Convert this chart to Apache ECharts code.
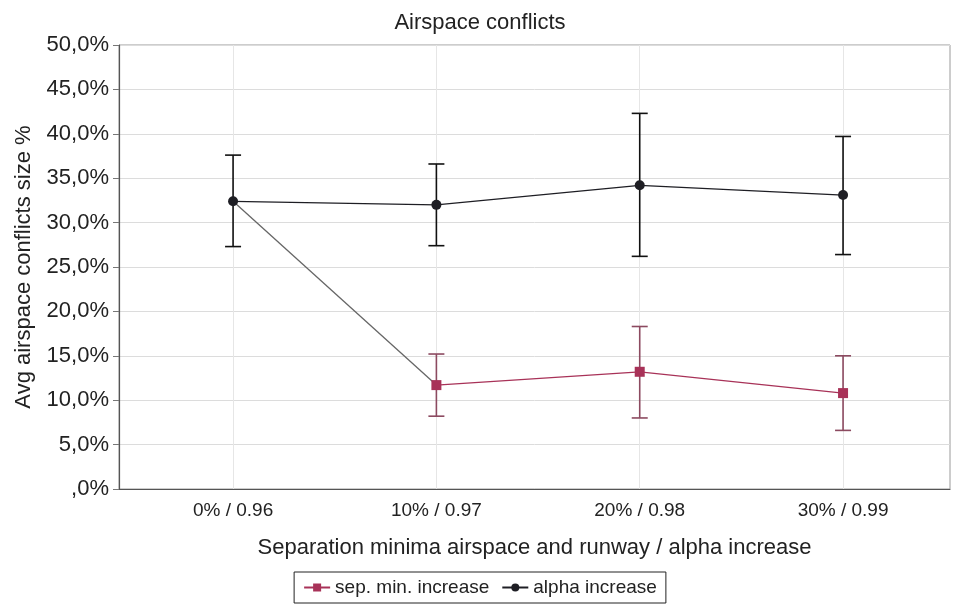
<!DOCTYPE html>
<html><head><meta charset="utf-8">
<script src="https://cdn.jsdelivr.net/npm/echarts@6/dist/echarts.min.js"></script>
<style>html,body{margin:0;padding:0;background:#fff}#c{width:960px;height:605px}</style>
</head><body><div id="c"></div>
<script>
const categories = ['0% / 0.96', '10% / 0.97', '20% / 0.98', '30% / 0.99'];
const sepMean = [32.4, 11.7, 13.2, 10.8];
const sepLow  = [null, 8.2, 8.0, 6.6];
const sepHigh = [null, 15.2, 18.3, 15.0];
const alphaMean = [32.4, 32.0, 34.2, 33.1];
const alphaLow  = [27.3, 27.4, 26.2, 26.4];
const alphaHigh = [37.6, 36.6, 42.3, 39.7];

const FONT = 'Liberation Sans';
const sepColor = '#a83258';
const sepBarColor = '#8c4a60';
const alphaColor = '#1e1e24';

function errData(low, high) {
  const out = [];
  for (let i = 0; i < low.length; i++) if (low[i] != null) out.push([i, low[i], high[i]]);
  return out;
}
function errRender(color) {
  return function (params, api) {
    const lo = api.coord([api.value(0), api.value(1)]);
    const hi = api.coord([api.value(0), api.value(2)]);
    const w = 8;
    const st = { stroke: color, lineWidth: 1.6 };
    return { type: 'group', children: [
      { type: 'line', shape: { x1: lo[0], y1: lo[1], x2: hi[0], y2: hi[1] }, style: st },
      { type: 'line', shape: { x1: lo[0] - w, y1: lo[1], x2: lo[0] + w, y2: lo[1] }, style: st },
      { type: 'line', shape: { x1: hi[0] - w, y1: hi[1], x2: hi[0] + w, y2: hi[1] }, style: st }
    ]};
  };
}
const pts = arr => arr.map((v, i) => [i, v]);
const connector = pts(sepMean).filter(p => p[0] <= 1);
const sepLine = pts(sepMean).filter(p => p[0] >= 1);

const chart = echarts.init(document.getElementById('c'));
chart.setOption({
  animation: false,
  textStyle: { fontFamily: FONT },
  title: { text: 'Airspace conflicts', left: 'center', top: 7,
    textStyle: { fontFamily: FONT, fontSize: 22, fontWeight: 'normal', color: '#222' } },
  grid: { left: 119, right: 10, top: 45, bottom: 116, show: true, borderColor: '#9a9a9a', borderWidth: 1 },
  legend: {
    data: ['sep. min. increase', 'alpha increase'],
    bottom: 2, left: 'center',
    borderColor: '#222', borderWidth: 1, padding: [6, 9, 6, 9], borderRadius: 0,
    itemWidth: 26, itemHeight: 10, itemGap: 12,
    textStyle: { fontFamily: FONT, fontSize: 19, color: '#222' }
  },
  xAxis: {
    type: 'value', min: -0.561, max: 3.526,
    name: 'Separation minima airspace and runway / alpha increase',
    nameLocation: 'middle', nameGap: 48,
    nameTextStyle: { fontFamily: FONT, fontSize: 22, color: '#222' },
    axisLine: { show: true, onZero: false, lineStyle: { color: '#555', width: 1.2 } },
    axisTick: { show: false },
    axisLabel: { fontFamily: FONT, fontSize: 19, color: '#222', margin: 12,
      showMinLabel: false, showMaxLabel: false,
      formatter: v => (Number.isInteger(v) && categories[v] !== undefined) ? categories[v] : '' },
    splitLine: { show: false }
  },
  yAxis: {
    type: 'value', min: 0, max: 50, interval: 5,
    name: 'Avg airspace conflicts size %', nameLocation: 'middle', nameGap: 84,
    nameTextStyle: { fontFamily: FONT, fontSize: 22, color: '#222' },
    axisLine: { show: true, onZero: false, lineStyle: { color: '#555', width: 1.2 } },
    axisTick: { show: true, length: 6, lineStyle: { color: '#777' } },
    axisLabel: { fontFamily: FONT, fontSize: 22, color: '#222', margin: 10,
      formatter: v => v === 0 ? ',0%' : v.toFixed(1).replace('.', ',') + '%' },
    splitLine: { lineStyle: { color: '#dcdcdc' } }
  },
  series: [
    { name: 'vgrid', type: 'line', data: [], z: 1, silent: true,
      markLine: { silent: true, z: 1, symbol: ['none', 'none'], label: { show: false },
        lineStyle: { color: '#e6e6e6', type: 'solid', width: 1 },
        data: categories.map((c, i) => ({ xAxis: i })) } },
    { name: 'connector', type: 'line', data: connector, symbol: 'none', silent: true,
      lineStyle: { color: '#666', width: 1.3 }, z: 2 },
    { name: 'sep. min. increase', type: 'line', data: sepLine, symbol: 'rect', symbolSize: 10,
      itemStyle: { color: sepColor }, lineStyle: { color: sepColor, width: 1.3 }, z: 3 },
    { name: 'alpha increase', type: 'line', data: pts(alphaMean), symbol: 'circle', symbolSize: 10,
      itemStyle: { color: alphaColor }, lineStyle: { color: alphaColor, width: 1.3 }, z: 4 },
    { name: 'sepErr', type: 'custom', data: errData(sepLow, sepHigh), renderItem: errRender(sepBarColor),
      encode: { x: 0, y: [1, 2] }, silent: true, z: 2 },
    { name: 'alphaErr', type: 'custom', data: errData(alphaLow, alphaHigh), renderItem: errRender('#111'),
      encode: { x: 0, y: [1, 2] }, silent: true, z: 2 }
  ]
});
</script></body></html>
